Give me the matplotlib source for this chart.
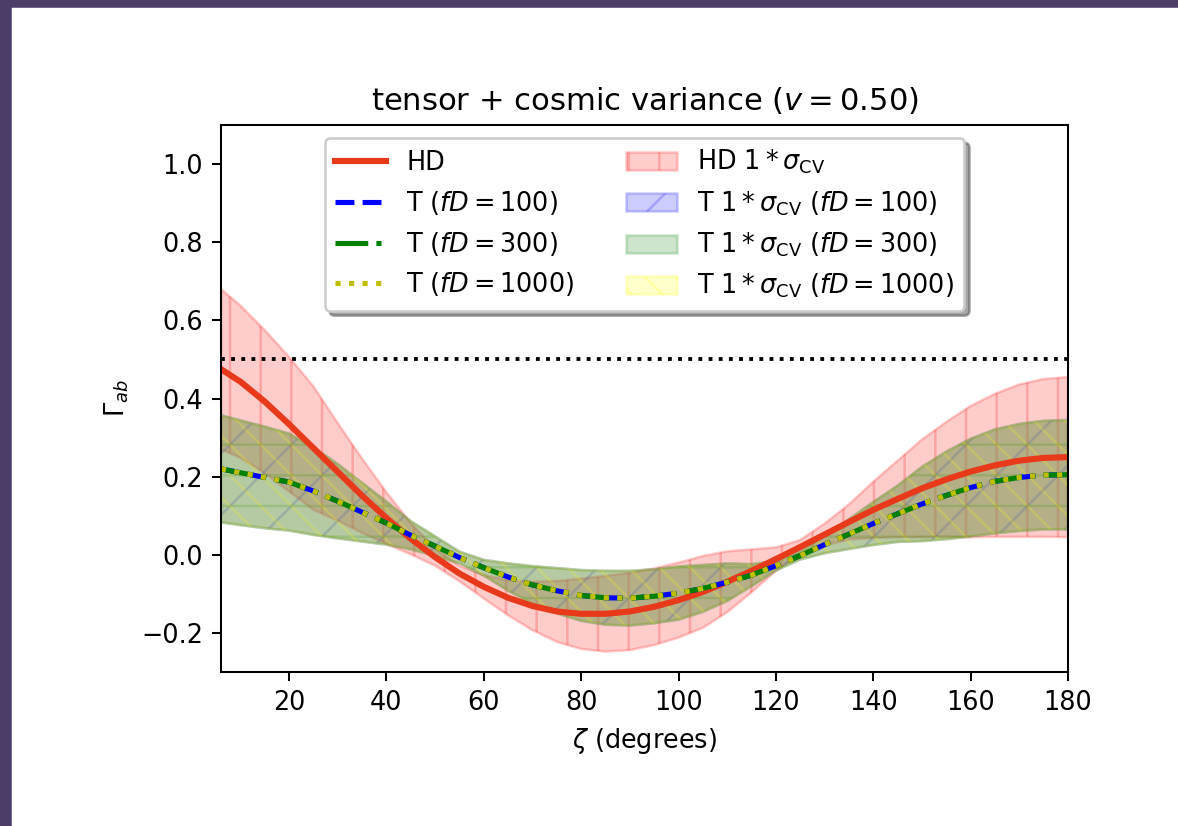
import numpy as np
import matplotlib
matplotlib.use("Agg")
import matplotlib.pyplot as plt
from matplotlib.patches import Rectangle

# angular separation (degrees)
zeta = [6, 10, 15, 20, 25, 30, 35, 40, 45, 50, 55, 60, 65, 70, 75, 80, 85, 90,
        95, 100, 105, 110, 115, 120, 125, 130, 135, 140, 145, 150, 155, 160,
        165, 170, 175, 180]

# HD curve and its cosmic-variance half width
hd = [0.475, 0.443, 0.392, 0.334, 0.273, 0.212, 0.151, 0.094, 0.041, -0.006,
      -0.048, -0.082, -0.110, -0.131, -0.145, -0.151, -0.151, -0.145, -0.133,
      -0.116, -0.095, -0.069, -0.041, -0.011, 0.020, 0.052, 0.084, 0.115,
      0.143, 0.170, 0.193, 0.213, 0.229, 0.241, 0.248, 0.250]
hd_sig = [0.205, 0.195, 0.183, 0.172, 0.158, 0.125, 0.095, 0.066, 0.040, 0.022,
          0.020, 0.030, 0.045, 0.062, 0.078, 0.090, 0.097, 0.099, 0.098, 0.096,
          0.092, 0.078, 0.055, 0.030, 0.018, 0.028, 0.045, 0.072, 0.098, 0.125,
          0.147, 0.168, 0.183, 0.195, 0.202, 0.205]

# tensor curves - the three fD values lie on top of each other
t_mean = [0.220, 0.210, 0.198, 0.186, 0.163, 0.137, 0.109, 0.081, 0.050, 0.022,
          -0.007, -0.033, -0.057, -0.077, -0.092, -0.104, -0.110, -0.111, -0.106,
          -0.098, -0.086, -0.070, -0.052, -0.028, -0.002, 0.026, 0.053, 0.080,
          0.105, 0.130, 0.152, 0.172, 0.188, 0.198, 0.204, 0.205]
t_sig = [0.137, 0.134, 0.130, 0.124, 0.112, 0.095, 0.075, 0.055, 0.036, 0.025,
         0.015, 0.020, 0.035, 0.048, 0.058, 0.065, 0.069, 0.070, 0.069, 0.068,
         0.060, 0.048, 0.028, 0.012, 0.010, 0.022, 0.038, 0.055, 0.072, 0.095,
         0.112, 0.125, 0.133, 0.137, 0.139, 0.140]
fD_vals = [100, 300, 1000]
t_curves = {100: t_mean, 300: t_mean, 1000: t_mean}
t_sigmas = {100: t_sig, 300: t_sig, 1000: t_sig}

line_styles = {100: ('b', '--'), 300: ('g', '-.'), 1000: ('y', ':')}
band_styles = {100: ('blue', '/'), 300: ('green', '-'), 1000: ('yellow', '\\\\')}

zeta = np.array(zeta)
hd = np.array(hd)
hd_sig = np.array(hd_sig)

dpi = 184
fig = plt.figure(figsize=(1178 / dpi, 826 / dpi), dpi=dpi)
ax = fig.add_axes([0.1876, 0.1864, 0.719, 0.6623])

# screenshot border
fig.patches.append(Rectangle((0, 0), 10 / 1178, 1, transform=fig.transFigure,
                             color='#4b3d68', zorder=10))
fig.patches.append(Rectangle((0, 1 - 6 / 826), 1, 6 / 826, transform=fig.transFigure,
                             color='#4b3d68', zorder=10))

bands = []
b = ax.fill_between(zeta, hd - hd_sig, hd + hd_sig, color='red', alpha=0.2,
                    hatch='|', label=r'HD $1*\sigma_{\rm CV}$')
bands.append(b)
for fD in fD_vals:
    m = np.array(t_curves[fD])
    s = np.array(t_sigmas[fD])
    c, h = band_styles[fD]
    b = ax.fill_between(zeta, m - s, m + s, color=c, alpha=0.2, hatch=h,
                        label=r'T $1*\sigma_{\rm CV}$ ($fD = %d$)' % fD)
    bands.append(b)

lines = []
l, = ax.plot(zeta, hd, color='#e8391a', lw=2.4, label='HD')
lines.append(l)
for fD in fD_vals:
    c, ls = line_styles[fD]
    l, = ax.plot(zeta, t_curves[fD], color=c, ls=ls, lw=2.0,
                 label=r'T ($fD = %d$)' % fD)
    lines.append(l)

ax.axhline(0.5, color='k', ls=':', lw=1.5)

ax.set_xlim(6, 180)
ax.set_ylim(-0.3, 1.1)
ax.set_xlabel(r'$\zeta$ (degrees)')
ax.set_ylabel(r'$\Gamma_{ab}$')
ax.set_title(r'tensor + cosmic variance ($v = 0.50$)')
ax.legend(handles=lines + bands, ncol=2, loc='upper center', shadow=True)

fig.savefig('out.png', dpi=dpi)
